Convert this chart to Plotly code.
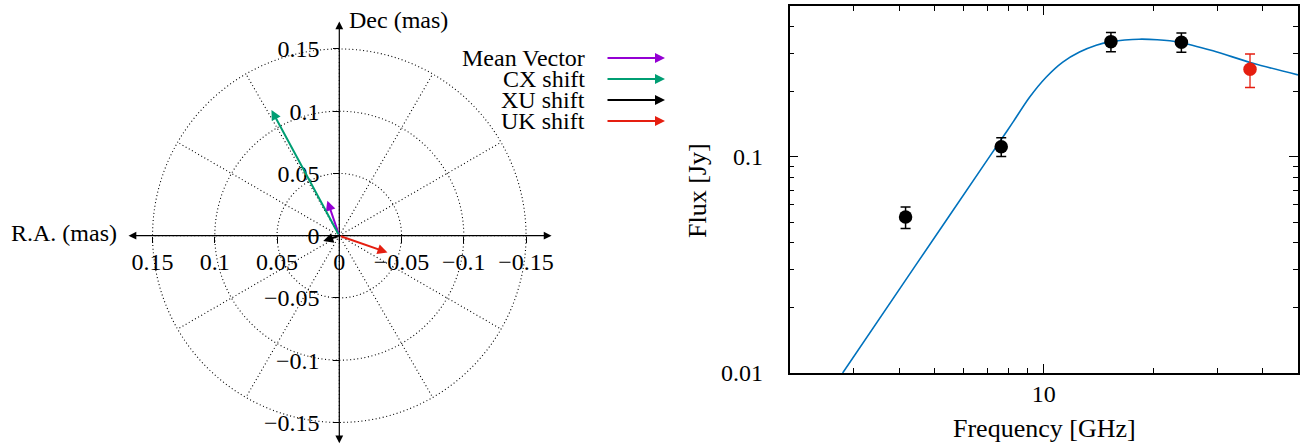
import math
import plotly.graph_objects as go

W, H = 1304, 445          # reference picture size (used for paper fractions)
FIG_H = 458               # page height that ends up photographed as 445 rows
FONT = '"Liberation Serif", "DejaVu Serif", "Noto Serif", serif'

# ---------------- Left panel: position shift vectors (mas) ----------------
vec_names = ["Mean Vector", "CX shift", "XU shift", "UK shift"]
vec_ra = [0.0096, 0.0545, 0.0129, -0.0387]
vec_dec = [0.0281, 0.1010, -0.0043, -0.0135]
vec_colors = ["#9400d3", "#009e73", "#000000", "#e51e10"]

grid_radii = [0.05, 0.10, 0.15]
grid_angles = [0, 30, 60, 90, 120, 150, 180, 210, 240, 270, 300, 330]

ra_tickvals = [0.15, 0.1, 0.05, 0, -0.05, -0.1, -0.15]
ra_ticktext = ["0.15", "0.1", "0.05", "0", "\u22120.05", "\u22120.1", "\u22120.15"]
dec_tickvals = [0.15, 0.1, 0.05, 0, -0.05, -0.1, -0.15]
dec_ticktext = ["0.15", "0.1", "0.05", "0", "\u22120.05", "\u22120.1", "\u22120.15"]

# ---------------- Right panel: radio spectrum ----------------
obs_freq = [4.17, 7.64, 15.3, 23.9]
obs_flux = [0.0527, 0.1116, 0.342, 0.340]
obs_err = [0.006, 0.011, 0.035, 0.035]

red_freq = [36.9]
red_flux = [0.2547]
red_err = [0.045]

fit_freq = [2.80, 4.41, 7.02, 7.64, 8.23, 9.14, 10.15, 11.28, 12.54, 13.94,
            15.17, 16.7, 18.3, 20.5, 23.6, 29.2, 37.6, 50.0]
fit_flux = [0.0100, 0.0309, 0.0977, 0.1205, 0.145, 0.189, 0.234, 0.275, 0.306,
            0.329, 0.341, 0.348, 0.351, 0.349, 0.340, 0.310, 0.2716, 0.240]

x_major = [10]
x_major_text = ["10"]
x_minor = [3, 4, 5, 6, 7, 8, 9, 20, 30, 40]
y_major = [0.01, 0.1]
y_major_text = ["0.01", "0.1"]
y_minor = [0.02, 0.03, 0.04, 0.05, 0.06, 0.07, 0.08, 0.09, 0.2, 0.3, 0.4]

# ---------------- geometry of left panel (pixel mapping) ----------------
cx, cy, scale = 339.3, 235.7, 1245.0
left_dom_px = 678
xr = [cx / scale, (cx - left_dom_px) / scale]          # reversed RA
yr = [(cy - H) / scale, cy / scale]

fig = go.Figure()

fig.add_trace(go.Scatter(x=[0], y=[0], mode="markers", marker=dict(opacity=0),
                         showlegend=False, hoverinfo="skip", xaxis="x", yaxis="y"))

DOT = dict(color="black", width=1.1, dash="1px,2.6px")
shapes = []
for r in grid_radii:
    shapes.append(dict(type="circle", xref="x", yref="y", x0=-r, x1=r, y0=-r, y1=r,
                       line=DOT, layer="below"))
rmax = max(grid_radii)
for a in grid_angles:
    t = math.radians(a)
    shapes.append(dict(type="line", xref="x", yref="y", x0=0, y0=0,
                       x1=rmax * math.cos(t), y1=rmax * math.sin(t),
                       line=DOT, layer="below"))

ann = []
ext = 0.1705
ann.append(dict(xref="x", yref="y", axref="x", ayref="y", x=-ext, y=0, ax=ext, ay=0,
                text="", showarrow=True, arrowhead=2, startarrowhead=2, arrowside="end+start",
                arrowsize=1.3, startarrowsize=1.3, arrowwidth=1.2, arrowcolor="black",
                standoff=0, startstandoff=0))
ann.append(dict(xref="x", yref="y", axref="x", ayref="y", x=0, y=0.172, ax=0, ay=-0.168,
                text="", showarrow=True, arrowhead=2, startarrowhead=2, arrowside="end+start",
                arrowsize=1.3, startarrowsize=1.3, arrowwidth=1.2, arrowcolor="black",
                standoff=0, startstandoff=0))
for ra, dec, col in zip(vec_ra, vec_dec, vec_colors):
    ann.append(dict(xref="x", yref="y", axref="x", ayref="y", x=ra, y=dec, ax=0, ay=0,
                    text="", showarrow=True, arrowhead=2, arrowsize=1, arrowwidth=2,
                    arrowcolor=col, standoff=0))
leg_y = [58, 79, 100, 121]
for name, col, ly in zip(vec_names, vec_colors, leg_y):
    ann.append(dict(xref="paper", yref="paper", x=587 / W, y=1 - ly / H, text=name,
                    showarrow=False, xanchor="right", yanchor="middle",
                    font=dict(family=FONT, size=24, color="black")))
    ann.append(dict(xref="paper", yref="paper", x=665 / W, y=1 - ly / H, ax=-59, ay=0,
                    text="", showarrow=True, arrowhead=2, arrowsize=1, arrowwidth=2,
                    arrowcolor=col, standoff=0))
ann.append(dict(xref="paper", yref="paper", x=347 / W, y=1 - 20 / H, text="Dec (mas)",
                showarrow=False, xanchor="left", yanchor="middle",
                font=dict(family=FONT, size=24, color="black")))
ann.append(dict(xref="paper", yref="paper", x=119 / W, y=1 - 233 / H, text="R.A. (mas)",
                showarrow=False, xanchor="right", yanchor="middle",
                font=dict(family=FONT, size=24, color="black")))
ann.append(dict(xref="paper", yref="paper", x=697 / W, y=1 - 191 / H, text="Flux [Jy]",
                showarrow=False, xanchor="center", yanchor="middle", textangle=-90,
                font=dict(family=FONT, size=26, color="black")))
ann.append(dict(xref="paper", yref="paper", x=1044.6 / W, y=1 - 428 / H,
                text="Frequency [GHz]", showarrow=False, xanchor="center", yanchor="middle",
                font=dict(family=FONT, size=26, color="black")))

fig.add_trace(go.Scatter(x=fit_freq, y=fit_flux, mode="lines",
                         line=dict(color="#0072bd", width=1.6, shape="spline", smoothing=0.8),
                         showlegend=False, xaxis="x2", yaxis="y2"))
fig.add_trace(go.Scatter(x=obs_freq, y=obs_flux, mode="markers",
                         marker=dict(color="black", size=13.5),
                         error_y=dict(type="data", array=obs_err, color="black",
                                      thickness=1.5, width=5),
                         showlegend=False, xaxis="x2", yaxis="y2"))
fig.add_trace(go.Scatter(x=red_freq, y=red_flux, mode="markers",
                         marker=dict(color="#e51e10", size=13.5),
                         error_y=dict(type="data", array=red_err, color="#e51e10",
                                      thickness=1.3, width=5),
                         showlegend=False, xaxis="x2", yaxis="y2"))

tickfont_l = dict(family=FONT, size=24, color="black")
tickfont_r = dict(family=FONT, size=24, color="black")

fig.update_layout(
    width=W, height=FIG_H, margin=dict(l=0, r=0, t=0, b=0),
    paper_bgcolor="white", plot_bgcolor="white", showlegend=False,
    font=dict(family=FONT, color="black"),
    shapes=shapes, annotations=ann,
    xaxis=dict(domain=[0, left_dom_px / W], range=xr, anchor="free", position=1 - cy / H,
               showgrid=False, zeroline=False, showline=False,
               tickmode="array", tickvals=ra_tickvals, ticktext=ra_ticktext,
               ticks="outside", ticklen=6, tickwidth=1, tickcolor="black",
               tickfont=tickfont_l, ticklabelstandoff=-2),
    yaxis=dict(domain=[0, 1], range=yr, anchor="free", position=cx / W,
               showgrid=False, zeroline=False, showline=False,
               tickmode="array", tickvals=dec_tickvals, ticktext=dec_ticktext,
               ticks="outside", ticklen=6, tickwidth=1, tickcolor="black",
               tickfont=tickfont_l, ticklabelstandoff=9),
    xaxis2=dict(domain=[789.5 / W, 1298 / W], type="log",
                range=[math.log10(2), math.log10(50)], anchor="y2",
                showgrid=False, zeroline=False, showline=True, linecolor="black",
                linewidth=1.5, mirror="allticks",
                tickmode="array", tickvals=x_major, ticktext=x_major_text,
                ticks="inside", ticklen=9, tickwidth=1.2, tickcolor="black",
                tickfont=tickfont_r, ticklabelstandoff=-2,
                minor=dict(tickmode="array", tickvals=x_minor, ticks="inside",
                           ticklen=5, tickwidth=1.2, tickcolor="black", showgrid=False)),
    yaxis2=dict(domain=[1 - 373 / H, 1 - 6 / H], type="log",
                range=[-2, math.log10(0.5)], anchor="x2",
                showgrid=False, zeroline=False, showline=True, linecolor="black",
                linewidth=1.5, mirror="allticks",
                tickmode="array", tickvals=y_major, ticktext=y_major_text,
                ticks="inside", ticklen=9, tickwidth=1.2, tickcolor="black",
                tickfont=tickfont_r, ticklabelstandoff=20,
                minor=dict(tickmode="array", tickvals=y_minor, ticks="inside",
                           ticklen=5, tickwidth=1.2, tickcolor="black", showgrid=False)),
)

fig.write_html("out.html", config={"displayModeBar": False},
               post_script=("document.body.style.margin='0';"
                            "document.body.style.overflow='hidden';"))
